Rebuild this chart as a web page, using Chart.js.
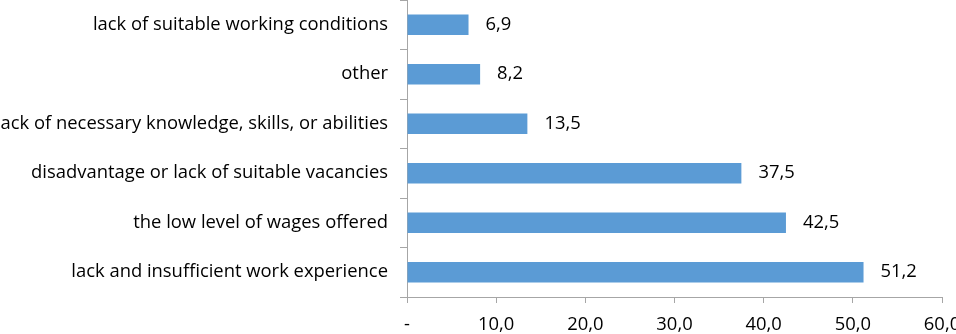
<!DOCTYPE html>
<html>
<head>
<meta charset="utf-8">
<script src="https://cdn.jsdelivr.net/npm/chart.js@4/dist/chart.umd.min.js"></script>
<style>
  html, body { margin: 0; padding: 0; background: #fff; }
  #wrap { width: 956px; height: 334px; position: relative; }
</style>
</head>
<body>
<div id="wrap"><canvas id="chart"></canvas></div>
<script>
var categories = [
  "lack of suitable working conditions",
  "other",
  "lack of necessary knowledge, skills, or abilities",
  "disadvantage or lack of suitable vacancies",
  "the low level of wages offered",
  "lack and insufficient work experience"
];
var values = [6.9, 8.2, 13.5, 37.5, 42.5, 51.2];
var xTicks = [0, 10, 20, 30, 40, 50, 60];

function fmt(v) {
  if (v === 0) return "-";
  return v.toFixed(1).replace(".", ",");
}

var fontFam = "'Open Sans', 'Liberation Sans', sans-serif";
var fontSize = 18.4;

// draws the value labels next to each bar
var valueLabels = {
  id: "valueLabels",
  afterDatasetsDraw: function(chart) {
    var ctx = chart.ctx;
    var meta = chart.getDatasetMeta(0);
    ctx.save();
    ctx.font = fontSize + "px " + fontFam;
    ctx.fillStyle = "#000";
    ctx.textAlign = "left";
    ctx.textBaseline = "middle";
    meta.data.forEach(function(bar, i) {
      ctx.fillText(fmt(values[i]), bar.x + 17, bar.y);
    });
    ctx.restore();
  }
};

var ctx = document.getElementById("chart").getContext("2d");
var mchart = new Chart(ctx, {
  type: "bar",
  data: {
    labels: categories,
    datasets: [{
      data: values,
      backgroundColor: "#5b9bd5",
      borderWidth: 0,
      barPercentage: 0.41,
      categoryPercentage: 1.0
    }]
  },
  options: {
    indexAxis: "y",
    responsive: true,
    maintainAspectRatio: false,
    animation: false,
    layout: { padding: 0 },
    plugins: {
      legend: { display: false },
      tooltip: { enabled: false }
    },
    scales: {
      x: {
        min: 0,
        max: 60,
        afterBuildTicks: function(scale) {
          scale.ticks = xTicks.map(function(v) { return { value: v }; });
        },
        grid: {
          drawOnChartArea: false,
          drawTicks: true,
          tickLength: 6,
          color: "#a6a6a6"
        },
        border: { display: true, color: "#a6a6a6", width: 1 },
        ticks: {
          color: "#000",
          font: { family: fontFam, size: fontSize },
          padding: 11,
          maxRotation: 0,
          autoSkip: false,
          callback: function(value) { return fmt(value); }
        },
        afterFit: function(scale) {
          scale.height = 37;
          scale.paddingLeft = 0;
          scale.paddingRight = 14;
        }
      },
      y: {
        offset: true,
        grid: {
          offset: true,
          drawOnChartArea: false,
          drawTicks: true,
          tickLength: 7,
          color: "#a6a6a6"
        },
        border: { display: true, color: "#a6a6a6", width: 1 },
        ticks: {
          color: "#000",
          font: { family: fontFam, size: fontSize },
          padding: 12,
          autoSkip: false
        },
        afterFit: function(scale) {
          scale.width = 407;
          scale.paddingTop = 0;
          scale.paddingBottom = 0;
        }
      }
    }
  },
  plugins: [valueLabels]
});
</script>
</body>
</html>
